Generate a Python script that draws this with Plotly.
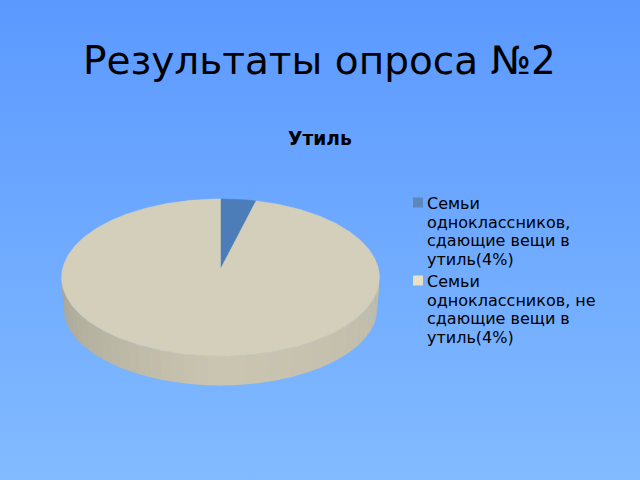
import math
import plotly.graph_objects as go

slide_title = "Результаты опроса №2"
chart_title = "Утиль"
category_lines = [["Семьи", "одноклассников,", "сдающие вещи в", "утиль(4%)"],
                  ["Семьи", "одноклассников, не", "сдающие вещи в", "утиль(4%)"]]
values = [4, 96]
slice_colors = ["#4d7db8", "#d3cfba"]
legend_colors = ["#5b87bc", "#e6e1c8"]

CX, CY, A, B, K = 220.5, 269.0, 158.0, 77.6, 0.108
DEPTH, SHRINK = 30.5, 0.988


def project(deg, r=1.0, scale=1.0, dy=0.0):
    t = math.radians(deg)
    u, v = r * math.sin(t), r * math.cos(t)
    w = 1 + K * v
    return CX + scale * A * u / w, CY + dy - scale * B * v / w


def arc(a0, a1, n=None, **kw):
    n = n or max(2, int(abs(a1 - a0) * 1.5))
    return [project(a0 + (a1 - a0) * i / n, **kw) for i in range(n + 1)]


def shade(deg):
    # deg 90 = right, 180 = front, 270 = left
    if deg <= 180:
        f = 0.90 + (0.955 - 0.90) * (deg - 90) / 90
    else:
        f = 0.955 - (0.955 - 0.79) * (deg - 180) / 90
    r, g, b = 0xd3, 0xcf, 0xba
    return f"rgb({r*f:.0f},{g*f:.0f},{b*f:.0f})"


fig = go.Figure()

# side wall: strips along the front half of the rim
wall_start = 84
wall_end = 276
strips = 48
step = (wall_end - wall_start) / strips
for i in range(strips):
    a0 = wall_start + i * step
    a1 = a0 + step + 0.3
    top = arc(a0, a1, n=3)
    bot = arc(a1, a0, n=3, scale=SHRINK, dy=DEPTH)
    pts = top + bot + [top[0]]
    fig.add_trace(go.Scatter(x=[p[0] for p in pts], y=[p[1] for p in pts], mode="lines",
                             fill="toself", fillcolor=shade(a0 + step / 2),
                             line=dict(width=0), hoverinfo="skip", showlegend=False))

# top surface
total = sum(values)
start = 0.0
for lines, val, col in zip(category_lines, values, slice_colors):
    end = start + 360 * val / total
    pts = [project(0, r=0)] + arc(start, end) + [project(0, r=0)]
    fig.add_trace(go.Scatter(x=[p[0] for p in pts], y=[p[1] for p in pts], mode="lines",
                             fill="toself", fillcolor=col, line=dict(width=0.5, color=col),
                             name=" ".join(lines), showlegend=False))
    start = end

# legend keys and labels
legend_x = 418
legend_first_line = [203.5, 281.5]
line_gap = 18.7
annotations = [
    dict(x=319, y=60, text=slide_title, font=dict(size=39, color="#000000"), showarrow=False,
         xanchor="center", yanchor="middle"),
    dict(x=320, y=138, text=f"<b>{chart_title}</b>", font=dict(size=18.7, color="#000000"), showarrow=False,
         xanchor="center", yanchor="middle"),
]
for lines, first, lc in zip(category_lines, legend_first_line, legend_colors):
    fig.add_trace(go.Scatter(x=[legend_x], y=[first - 1], mode="markers",
                             marker=dict(symbol="square", size=10, color=lc, line=dict(width=0)),
                             hoverinfo="skip", showlegend=False))
    for j, line in enumerate(lines):
        annotations.append(dict(x=425, y=first + j * line_gap, text=line, align="left", showarrow=False,
                                xanchor="left", yanchor="middle",
                                font=dict(size=16, color="#000000")))

svg = ("data:image/svg+xml;utf8,<svg xmlns='http://www.w3.org/2000/svg' width='640' height='480' "
       "preserveAspectRatio='none'><defs><linearGradient id='g' x1='0' y1='0' x2='0' y2='1'>"
       "<stop offset='0' stop-color='%235b99ff'/><stop offset='1' stop-color='%2382bbff'/>"
       "</linearGradient></defs><rect width='640' height='480' fill='url(%23g)'/></svg>")

fig.update_layout(
    width=640, height=480, margin=dict(l=0, r=0, t=0, b=0),
    paper_bgcolor="#6ba6ff", plot_bgcolor="rgba(0,0,0,0)",
    font=dict(family="DejaVu Sans", color="#000000"),
    xaxis=dict(range=[0, 640], visible=False, fixedrange=True),
    yaxis=dict(range=[480, 0], visible=False, fixedrange=True),
    images=[dict(source=svg, xref="paper", yref="paper", x=0, y=1, sizex=1, sizey=1,
                 sizing="stretch", layer="below", xanchor="left", yanchor="top")],
    annotations=annotations, showlegend=False,
)
fig.write_html("out.html", post_script="document.body.style.margin='0';", config=dict(displayModeBar=False))
